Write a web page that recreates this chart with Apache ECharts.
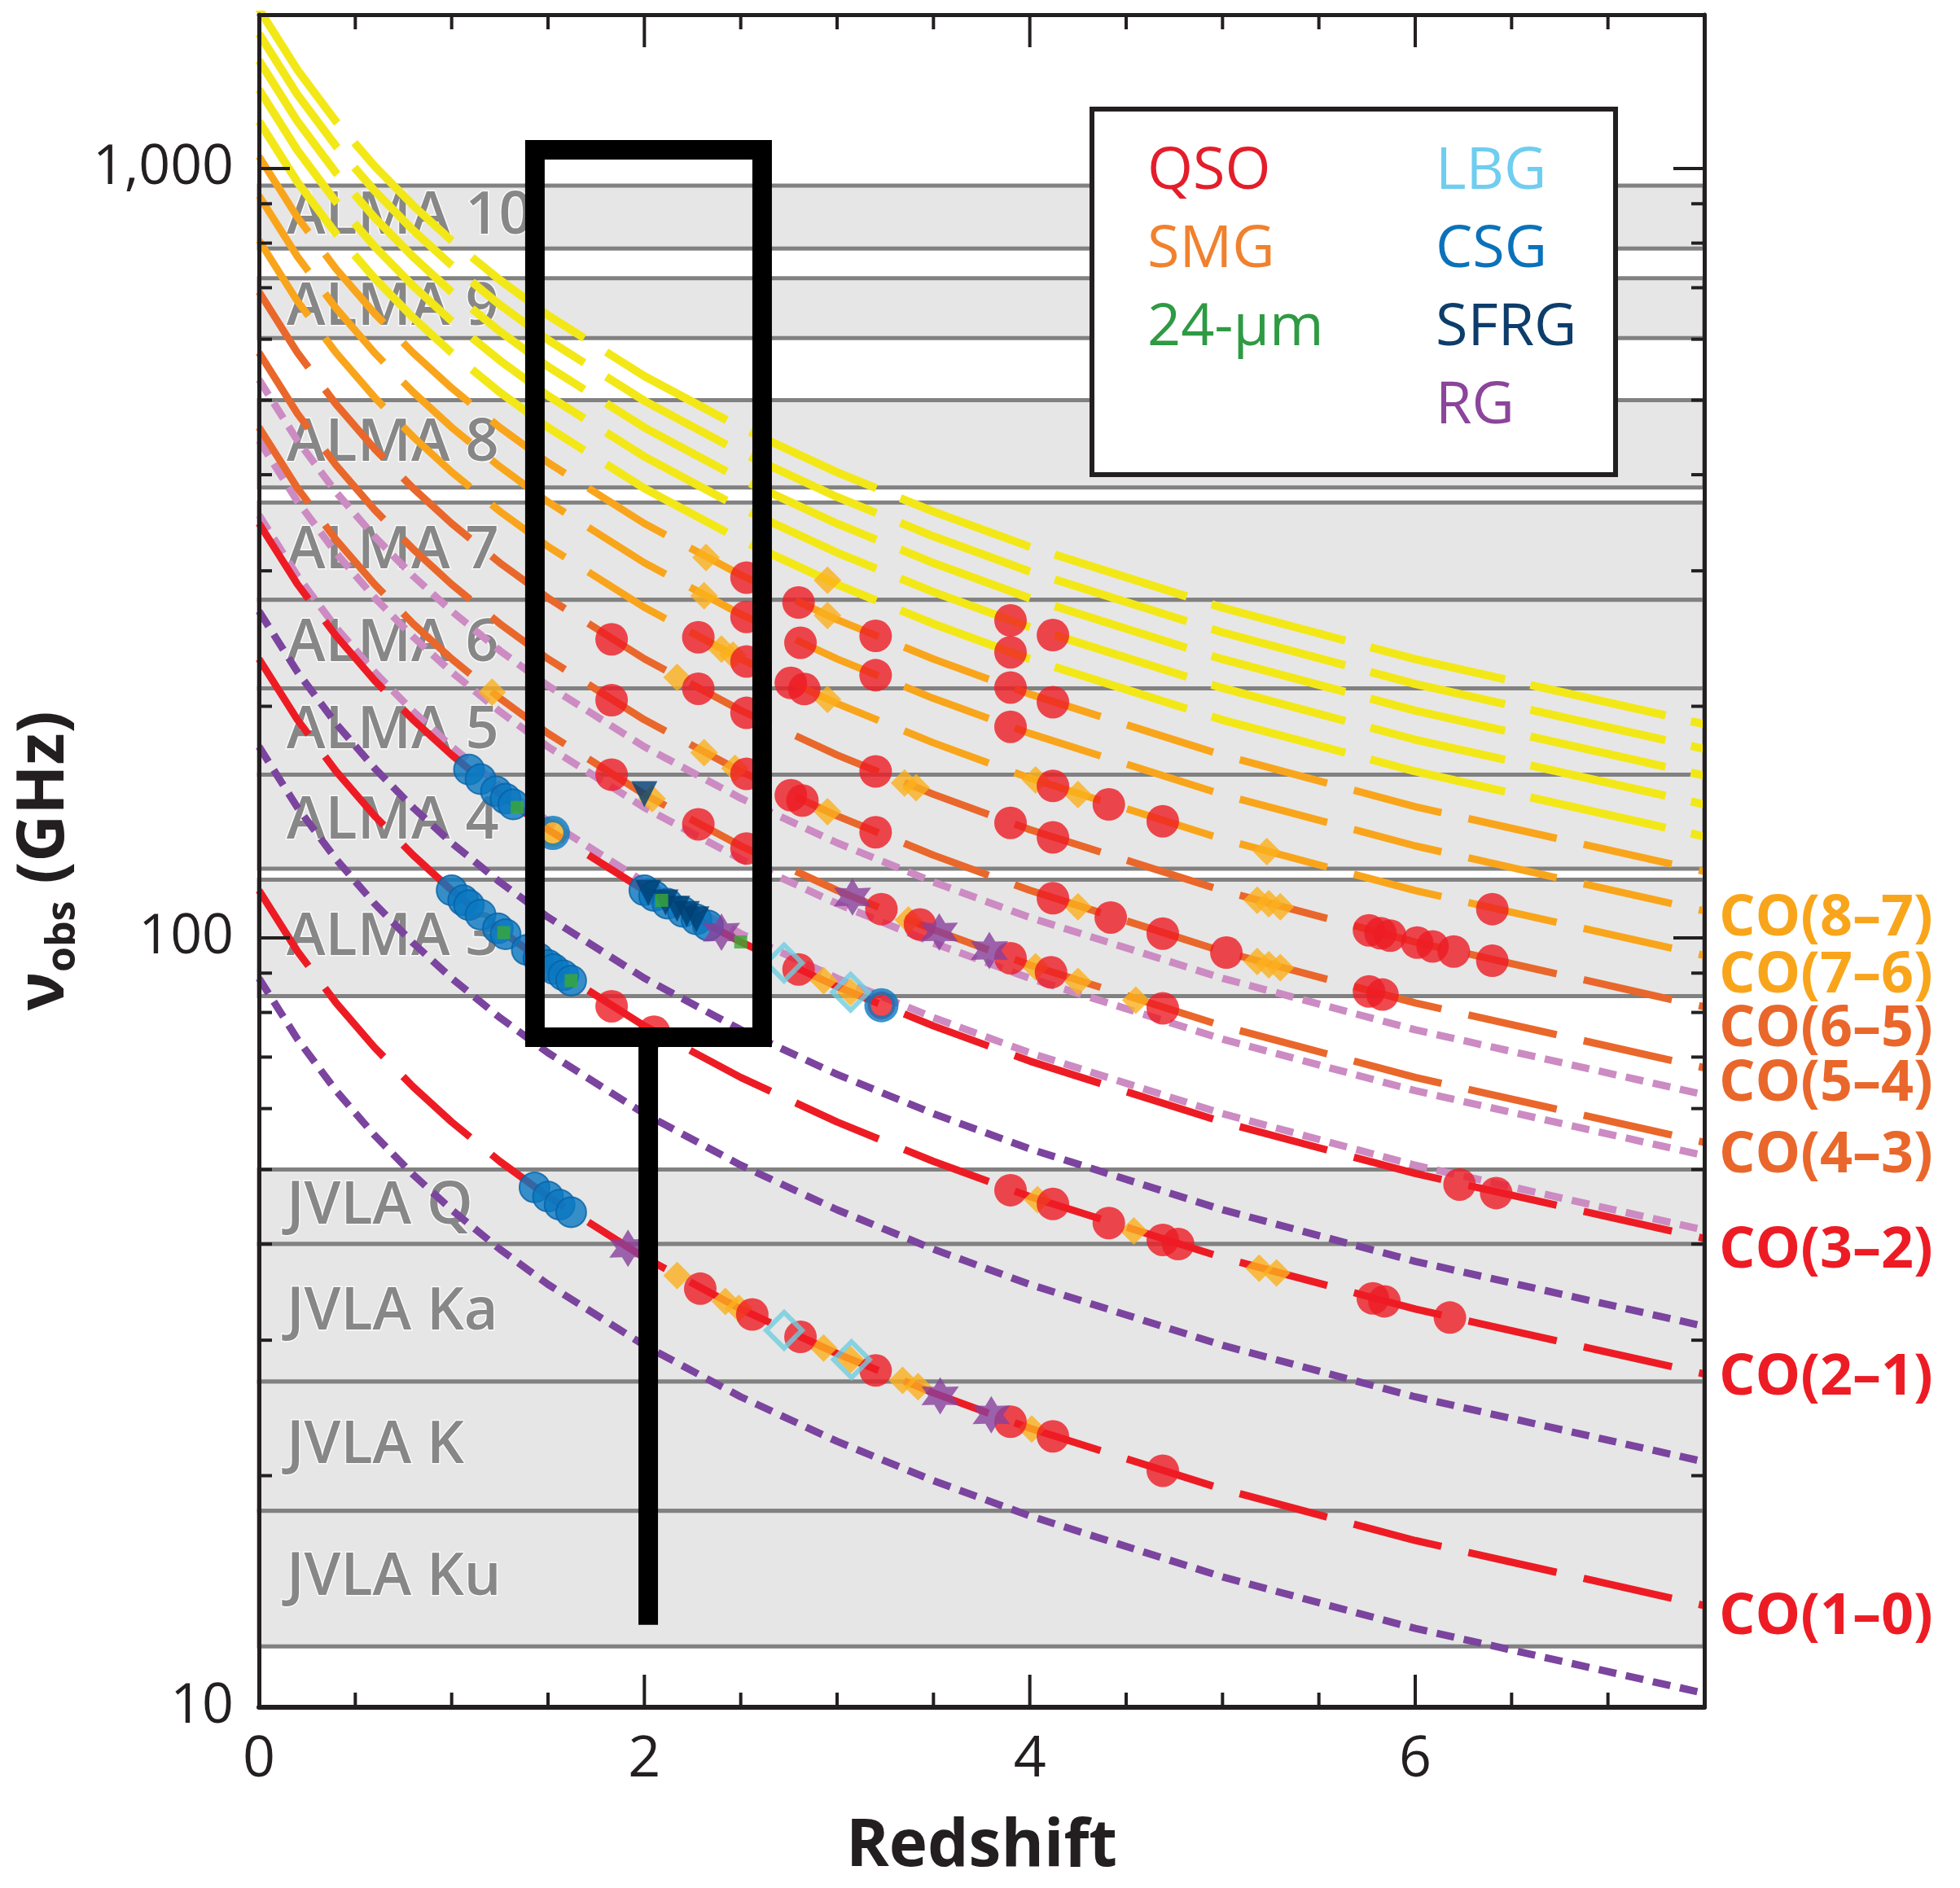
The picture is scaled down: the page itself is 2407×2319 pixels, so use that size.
<!DOCTYPE html>
<html>
<head>
<meta charset="utf-8">
<script src="https://cdn.jsdelivr.net/npm/echarts@6/dist/echarts.min.js"></script>
<style>
  html, body { margin: 0; padding: 0; background: #fff; }
  #chart { width: 2407px; height: 2319px; }
</style>
</head>
<body>
<div id="chart"></div>
<script>
// redshift samples used for every line track
const sampleZ = [0, 0.2, 0.4, 0.6, 0.8, 1, 1.25, 1.5, 2, 2.5, 3, 3.5, 4, 5, 6, 7.5];

// observed frequency (GHz) of each CO line at the redshifts above
const co10 = [115.3, 96.06, 82.34, 72.04, 64.04, 57.64, 51.23, 46.11, 38.42, 32.93, 28.82, 25.62, 23.05, 19.21, 16.47, 13.56];
const co21 = [230.5, 192.1, 164.7, 144.1, 128.1, 115.3, 102.5, 92.22, 76.85, 65.87, 57.64, 51.23, 46.11, 38.42, 32.93, 27.12];
const co32 = [345.8, 288.2, 247.0, 216.1, 192.1, 172.9, 153.7, 138.3, 115.3, 98.80, 86.45, 76.84, 69.16, 57.63, 49.40, 40.68];
const co43 = [461.0, 384.2, 329.3, 288.2, 256.1, 230.5, 204.9, 184.4, 153.7, 131.7, 115.3, 102.5, 92.21, 76.84, 65.86, 54.24];
const co54 = [576.3, 480.2, 411.6, 360.2, 320.2, 288.1, 256.1, 230.5, 192.1, 164.6, 144.1, 128.1, 115.3, 96.05, 82.32, 67.80];
const co65 = [691.5, 576.2, 493.9, 432.2, 384.2, 345.7, 307.3, 276.6, 230.5, 197.6, 172.9, 153.7, 138.3, 115.2, 98.78, 81.35];
const co76 = [806.7, 672.2, 576.2, 504.2, 448.1, 403.3, 358.5, 322.7, 268.9, 230.5, 201.7, 179.3, 161.3, 134.4, 115.2, 94.90];
const co87 = [921.8, 768.2, 658.4, 576.1, 512.1, 460.9, 409.7, 368.7, 307.3, 263.4, 230.5, 204.8, 184.4, 153.6, 131.7, 108.4];
const co98 = [1036.9, 864.1, 740.6, 648.1, 576.1, 518.5, 460.8, 414.8, 345.6, 296.3, 259.2, 230.4, 207.4, 172.8, 148.1, 122.0];
const co109 = [1152.0, 960.0, 822.9, 720.0, 640.0, 576.0, 512.0, 460.8, 384.0, 329.1, 288.0, 256.0, 230.4, 192.0, 164.6, 135.5];
const co1110 = [1267.0, 1055.8, 905.0, 791.9, 703.9, 633.5, 563.1, 506.8, 422.3, 362.0, 316.8, 281.6, 253.4, 211.2, 181.0, 149.1];
const co1211 = [1382.0, 1151.7, 987.1, 863.7, 767.8, 691.0, 614.2, 552.8, 460.7, 394.9, 345.5, 307.1, 276.4, 230.3, 197.4, 162.6];
const co1312 = [1496.9, 1247.4, 1069.2, 935.6, 831.6, 748.5, 665.3, 598.8, 499.0, 427.7, 374.2, 332.6, 299.4, 249.5, 213.8, 176.1];
const co1413 = [1611.8, 1343.2, 1151.3, 1007.4, 895.4, 805.9, 716.4, 644.7, 537.3, 460.5, 402.9, 358.2, 322.4, 268.6, 230.3, 189.6];

// HCN tracks (dotted)
const hcn10 = [88.63, 73.86, 63.31, 55.39, 49.24, 44.32, 39.39, 35.45, 29.54, 25.32, 22.16, 19.70, 17.73, 14.77, 12.66, 10.43];
const hcn21 = [177.3, 147.7, 126.6, 110.8, 98.48, 88.63, 78.78, 70.90, 59.09, 50.65, 44.32, 39.39, 35.45, 29.54, 25.32, 20.85];
const hcn32 = [265.9, 221.6, 189.9, 166.2, 147.7, 132.9, 118.2, 106.4, 88.63, 75.97, 66.47, 59.09, 53.18, 44.32, 37.98, 31.28];
const hcn43 = [354.5, 295.4, 253.2, 221.6, 197.0, 177.3, 157.6, 141.8, 118.2, 101.3, 88.63, 78.78, 70.90, 59.09, 50.64, 41.71];
const hcn54 = [443.1, 369.3, 316.5, 276.9, 246.2, 221.6, 196.9, 177.2, 147.7, 126.6, 110.8, 98.47, 88.62, 73.85, 63.30, 52.13];
const hcn65 = [531.7, 443.1, 379.8, 332.3, 295.4, 265.9, 236.3, 212.7, 177.2, 151.9, 132.9, 118.2, 106.3, 88.62, 75.96, 62.55];

// receiver bands (GHz)
const bandNames = ['ALMA 10', 'ALMA 9', 'ALMA 8', 'ALMA 7', 'ALMA 6', 'ALMA 5', 'ALMA 4', 'ALMA 3',
  'JVLA Q', 'JVLA Ka', 'JVLA K', 'JVLA Ku'];
const bandLow = [787, 602, 385, 275, 211, 163, 123, 84, 40, 26.5, 18, 12];
const bandHigh = [950, 720, 500, 368, 275, 211, 163, 119, 50, 40, 26.5, 18];

// detections [redshift, GHz]
const qsoPoints = [
  [1.83, 244.4], [1.83, 203.7], [1.83, 163.0], [1.83, 81.5], [2.05, 75.5],
  [2.28, 245.9], [2.28, 210.8], [2.28, 140.5],
  [2.53, 294.0], [2.53, 261.4], [2.53, 228.7], [2.53, 196.1], [2.53, 163.4], [2.53, 130.7],
  [2.80, 272.9], [2.81, 241.9], [2.76, 214.5], [2.83, 210.6], [2.76, 153.3], [2.82, 150.9], [2.80, 91.0],
  [3.20, 246.9], [3.20, 219.5], [3.20, 164.6], [3.20, 137.2], [3.23, 109.0], [3.43, 104.1],
  [3.90, 258.6], [3.90, 235.1], [3.90, 211.6], [3.90, 188.1], [3.90, 141.1], [3.90, 94.1],
  [4.12, 247.5], [4.12, 202.5], [4.12, 157.6], [4.12, 135.1], [4.12, 112.6], [4.11, 90.2],
  [4.41, 149.1], [4.69, 141.8], [4.42, 106.3], [4.69, 101.3], [5.02, 95.7], [4.69, 81.0],
  [5.76, 102.3], [5.82, 101.4], [5.87, 100.7], [6.01, 98.6], [6.09, 97.5], [6.20, 96.0], [6.40, 93.4],
  [6.40, 109.0], [5.76, 85.2], [5.83, 84.4],
  [6.23, 47.8], [6.42, 46.6],
  [3.90, 47.0], [4.12, 45.1], [4.41, 42.6], [4.69, 40.5], [4.77, 40.0], [5.78, 34.0], [5.84, 33.7], [6.18, 32.1],
  [2.29, 35.0], [2.56, 32.4], [2.81, 30.3], [3.20, 27.4], [3.90, 23.5], [4.12, 22.5], [4.69, 20.3]
];
const smgPoints = [
  [2.95, 291.6], [2.95, 262.5], [2.95, 204.2], [2.95, 145.9],
  [3.35, 159.0], [3.41, 156.8], [4.03, 160.4], [4.25, 153.6], [5.23, 129.5], [4.25, 109.8],
  [5.18, 111.9], [5.24, 110.8], [5.30, 109.8], [5.18, 93.2], [5.24, 92.3], [5.30, 91.5],
  [4.25, 87.8], [4.55, 83.0], [4.03, 91.7], [3.37, 105.5], [2.93, 88.0], [3.07, 85.0],
  [2.32, 312.3], [2.31, 278.5], [2.40, 237.3], [2.46, 233.1], [2.17, 218.1], [2.31, 174.1], [2.47, 166.1],
  [1.21, 208.6], [2.04, 151.7],
  [4.04, 45.7], [4.54, 41.6], [5.19, 37.2], [5.28, 36.7], [4.01, 23.0],
  [2.17, 36.4], [2.42, 33.7], [2.49, 33.0], [2.93, 29.3], [3.07, 28.3], [3.34, 26.6], [3.42, 26.1]
];
const csgPoints = [
  [1.09, 165.5], [1.15, 160.8], [1.23, 155.1], [1.28, 151.7], [1.32, 149.1],
  [1.00, 115.3], [1.06, 111.9], [1.09, 110.3], [1.15, 107.2], [1.24, 102.9], [1.28, 101.1],
  [1.39, 96.5], [1.45, 94.1], [1.50, 92.2], [1.53, 91.1], [1.58, 89.4], [1.62, 88.0],
  [2.00, 115.3], [2.05, 113.4], [2.12, 110.8], [2.20, 108.1], [2.27, 105.7], [2.33, 103.8],
  [1.43, 47.4], [1.50, 46.1], [1.56, 45.0], [1.62, 44.0]
];
const csgGoldPoints = [[1.525, 136.9]];
const csgRedPoints = [[3.23, 81.75]];
const sfrgPoints = [[2.00, 153.7], [2.02, 114.5], [2.11, 111.2], [2.17, 109.1], [2.22, 107.4], [2.27, 105.7]];
const rgPoints = [[2.40, 101.7], [3.08, 113.0], [3.53, 101.8], [3.79, 96.3], [1.915, 39.5], [3.535, 25.4], [3.80, 24.0]];
const lbgPoints = [[2.725, 92.8], [3.07, 85.0], [2.725, 30.9], [3.075, 28.3]];
const mipsPoints = [[1.34, 147.8], [1.27, 101.6], [2.09, 111.9], [2.50, 98.8], [1.62, 88.0]];

// highlighted window and its stem
const frameZ = [1.432, 1.432, 2.611, 2.611, 1.432];
const frameNu = [74.3, 1058, 1058, 74.3, 74.3];
const stemZ = [2.02, 2.02];
const stemNu = [74.3, 12.8];

// axes
const xTickValues = [0.5, 1, 1.5, 2, 2.5, 3, 3.5, 4, 4.5, 5, 5.5, 6, 6.5, 7];
const xLongTicks = [2, 4, 6];
const xLabelValues = [0, 2, 4, 6];
const yTickValues = [20, 30, 40, 50, 60, 70, 80, 90, 100, 200, 300, 400, 500, 600, 700, 800, 900, 1000];
const yLongTicks = [100, 1000];
const yLabelValues = [10, 100, 1000];

// legend
const legendLabels = ['QSO', 'SMG', '24-µm', 'LBG', 'CSG', 'SFRG', 'RG'];
const legendColors = ['#e31e2a', '#f0812e', '#2f9a44', '#6fcdf0', '#0b72b9', '#0d3d6b', '#8b459a'];
const legendCol = [0, 0, 0, 1, 1, 1, 1];
const legendRow = [0, 1, 2, 0, 1, 2, 3];

const FONT = '"Open Sans", "Noto Sans", sans-serif';
const INK = '#231f20';
const YELLOW = '#f3e817', LIGHT_OR = '#f9a51b', DARK_OR = '#e9672b', RED = '#ed1c24';
const PINK = '#cc8bc2', PURPLE = '#7b449e';
const CO_DASH = [111, 34], HI_DASH = [170, 32], DOT = [22, 12];

const chart = echarts.init(document.getElementById('chart'));

function track(name, values, color, width, dash, label, dy) {
  const s = {
    type: 'line', name: name, z: 2, silent: true, symbol: 'none', smooth: false,
    data: sampleZ.map((z, i) => [z, values[i]]),
    lineStyle: { color: color, width: width, type: dash, cap: 'butt', join: 'round' }
  };
  if (label) {
    s.endLabel = {
      show: true, formatter: label, distance: 18, offset: [0, dy],
      color: color, fontSize: 70, fontWeight: 'bold', fontFamily: FONT
    };
  }
  return s;
}

function fmtX(v) {
  return xLabelValues.some(t => Math.abs(t - v) < 1e-6) ? String(Math.round(v)) : '';
}
function fmtY(v) {
  for (const t of yLabelValues) {
    if (Math.abs(v - t) < 1e-6 * t) return t >= 1000 ? t.toLocaleString('en-US') : String(t);
  }
  return '';
}

function xTicks(params, api) {
  const cs = params.coordSys;
  const v = api.value(0);
  const px = api.coord([v, 10])[0];
  const len = xLongTicks.indexOf(v) >= 0 ? 40 : 18;
  const st = { stroke: INK, lineWidth: 4 };
  const bottom = cs.y + cs.height;
  return {
    type: 'group', children: [
      { type: 'line', shape: { x1: px, y1: bottom, x2: px, y2: bottom - len }, style: st },
      { type: 'line', shape: { x1: px, y1: cs.y, x2: px, y2: cs.y + len }, style: st }
    ]
  };
}
function yTicks(params, api) {
  const cs = params.coordSys;
  const v = api.value(1);
  const py = api.coord([0, v])[1];
  const len = yLongTicks.indexOf(v) >= 0 ? 38 : 16;
  const st = { stroke: INK, lineWidth: 4 };
  const right = cs.x + cs.width;
  return {
    type: 'group', children: [
      { type: 'line', shape: { x1: cs.x, y1: py, x2: cs.x + len, y2: py }, style: st },
      { type: 'line', shape: { x1: right, y1: py, x2: right - len, y2: py }, style: st }
    ]
  };
}

function markers(name, points, symbol, size, style, extra) {
  return Object.assign({
    type: 'scatter', name: name, z: 3, silent: true,
    symbol: symbol, symbolSize: size, data: points, itemStyle: style
  }, extra || {});
}

const STAR = 'path://M0,-100L27.5,-47.6L86.6,-50L55,0L86.6,50L27.5,47.6L0,100L-27.5,47.6L-86.6,50L-55,0L-86.6,-50L-27.5,-47.6Z';

const bandAreas = bandNames.map((n, i) => [{ name: n, yAxis: bandLow[i] }, { yAxis: bandHigh[i] }]);

const series = [
  {
    type: 'line', name: 'bands', z: 1, silent: true, data: [],
    markArea: {
      silent: true,
      itemStyle: { color: '#e6e6e6', borderColor: '#818181', borderWidth: 5 },
      label: { show: false },
      data: bandAreas
    }
  },
  track('HCN(1–0)', hcn10, PURPLE, 9, DOT),
  track('HCN(2–1)', hcn21, PURPLE, 9, DOT),
  track('HCN(3–2)', hcn32, PURPLE, 9, DOT),
  track('HCN(4–3)', hcn43, PINK, 9, DOT),
  track('HCN(5–4)', hcn54, PINK, 9, DOT),
  track('HCN(6–5)', hcn65, PINK, 9, DOT),
  track('CO(1–0)', co10, RED, 9, CO_DASH, 'CO(1–0)', 15),
  track('CO(2–1)', co21, RED, 9, CO_DASH, 'CO(2–1)', 6),
  track('CO(3–2)', co32, RED, 9, CO_DASH, 'CO(3–2)', 16),
  track('CO(4–3)', co43, DARK_OR, 9, CO_DASH, 'CO(4–3)', 17),
  track('CO(5–4)', co54, DARK_OR, 9, CO_DASH, 'CO(5–4)', 21),
  track('CO(6–5)', co65, DARK_OR, 9, CO_DASH, 'CO(6–5)', 28),
  track('CO(7–6)', co76, LIGHT_OR, 9, CO_DASH, 'CO(7–6)', 26),
  track('CO(8–7)', co87, LIGHT_OR, 9, CO_DASH, 'CO(8–7)', 10),
  track('CO(9–8)', co98, LIGHT_OR, 9, CO_DASH),
  track('CO(10–9)', co109, YELLOW, 10, HI_DASH),
  track('CO(11–10)', co1110, YELLOW, 10, HI_DASH),
  track('CO(12–11)', co1211, YELLOW, 10, HI_DASH),
  track('CO(13–12)', co1312, YELLOW, 10, HI_DASH),
  track('CO(14–13)', co1413, YELLOW, 10, HI_DASH),
  {
    type: 'line', name: 'band labels', z: 2.5, silent: true, data: [],
    markArea: {
      silent: true,
      itemStyle: { color: 'rgba(0,0,0,0)', borderWidth: 0 },
      label: {
        show: true, position: 'insideLeft', distance: 34,
        color: '#878787', fontSize: 72, fontWeight: 600, fontFamily: FONT,
        textBorderColor: 'rgba(255,255,255,0.75)', textBorderWidth: 3
      },
      data: bandAreas
    }
  },
  markers('SMG', smgPoints, 'diamond', 34, { color: '#fbb01d' }),
  markers('QSO', qsoPoints, 'circle', 40, { color: RED }),
  markers('CSG', csgPoints, 'circle', 37, { color: '#0a78c2', borderColor: '#0862a6', borderWidth: 2 }),
  markers('CSG ring', csgGoldPoints, 'circle', 34, { color: '#f9b31b', borderColor: '#0a78c2', borderWidth: 8 }),
  markers('CSG ring red', csgRedPoints, 'circle', 34, { color: RED, borderColor: '#0a78c2', borderWidth: 8 }),
  markers('SFRG', sfrgPoints, 'triangle', 32, { color: '#003e73' }, { symbolRotate: 180 }),
  markers('RG', rgPoints, STAR, 46, { color: '#88409c' }),
  markers('LBG', lbgPoints, 'diamond', 44, { color: 'rgba(0,0,0,0)', borderColor: '#6fcde0', borderWidth: 6 }),
  markers('24-µm', mipsPoints, 'rect', 16, { color: '#3aaa35' }),
  {
    type: 'line', name: 'window', z: 6, silent: true, symbol: 'none',
    data: frameZ.map((z, i) => [z, frameNu[i]]),
    lineStyle: { color: '#000', width: 24, join: 'miter', cap: 'square' }
  },
  {
    type: 'line', name: 'stem', z: 6, silent: true, symbol: 'none',
    data: stemZ.map((z, i) => [z, stemNu[i]]),
    lineStyle: { color: '#000', width: 24, cap: 'butt' }
  },
  {
    type: 'custom', name: 'xticks', z: 10, silent: true, renderItem: xTicks,
    data: xTickValues.map(v => [v, 10])
  },
  {
    type: 'custom', name: 'yticks', z: 10, silent: true, renderItem: yTicks,
    data: yTickValues.map(v => [0, v])
  }
];

const graphic = [{
  type: 'rect', z: 100,
  shape: { x: 1341, y: 134, width: 643, height: 449 },
  style: { fill: '#fff', stroke: INK, lineWidth: 6 }
}].concat(legendLabels.map((t, i) => ({
  type: 'text', z: 101,
  x: 1409 + legendCol[i] * 354, y: 211 + legendRow[i] * 96,
  style: {
    text: t, fill: legendColors[i], fontSize: 72, fontFamily: FONT,
    verticalAlign: 'middle', align: 'left'
  }
})));

chart.setOption({
  animation: false,
  backgroundColor: '#fff',
  grid: { left: 318, top: 18, right: 314, bottom: 222, outerBoundsMode: 'none' },
  xAxis: [{
    type: 'value', min: 0, max: 7.5, interval: 0.5, z: 10,
    axisLine: { show: true, onZero: false, lineStyle: { color: INK, width: 6 } },
    axisTick: { show: false }, splitLine: { show: false },
    axisLabel: { formatter: fmtX, margin: 30, fontSize: 70, color: INK, fontFamily: FONT },
    name: 'Redshift', nameLocation: 'middle', nameGap: 132,
    nameTextStyle: { fontSize: 80, fontWeight: 'bold', color: INK, fontFamily: FONT }
  }, {
    type: 'value', min: 0, max: 7.5, position: 'top', z: 10,
    axisLine: { show: true, onZero: false, lineStyle: { color: INK, width: 5 } },
    axisTick: { show: false }, axisLabel: { show: false }, splitLine: { show: false }
  }],
  yAxis: [{
    type: 'log', logBase: 10, min: 10, max: 1585, z: 10,
    axisLine: { show: true, onZero: false, lineStyle: { color: INK, width: 5 } },
    axisTick: { show: false }, splitLine: { show: false }, minorTick: { show: false },
    axisLabel: { formatter: fmtY, margin: 31, fontSize: 68, color: INK, fontFamily: FONT },
    name: '{a|ν}{b|obs}{a| (GHz)}', nameLocation: 'middle', nameGap: 205,
    nameTextStyle: {
      rich: {
        a: { fontSize: 80, fontWeight: 'bold', color: INK, fontFamily: FONT, lineHeight: 96 },
        b: { fontSize: 50, fontWeight: 'bold', color: INK, fontFamily: FONT, lineHeight: 50,
             padding: [46, 0, 0, 0], verticalAlign: 'bottom' }
      }
    }
  }, {
    type: 'log', logBase: 10, min: 10, max: 1585, position: 'right', z: 10,
    axisLine: { show: true, onZero: false, lineStyle: { color: INK, width: 5 } },
    axisTick: { show: false }, axisLabel: { show: false }, splitLine: { show: false }
  }],
  series: series,
  graphic: graphic
});
</script>
</body>
</html>
